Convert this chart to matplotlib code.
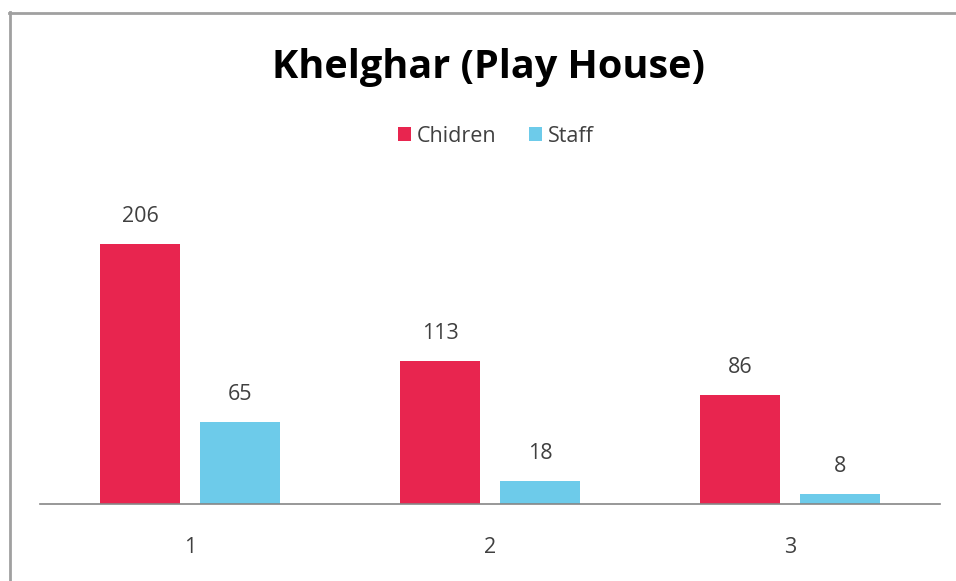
import numpy as np
import matplotlib
matplotlib.use("Agg")
from matplotlib import pyplot as plt
from matplotlib.lines import Line2D

categories = ["1", "2", "3"]
children = [206, 113, 86]
staff = [65, 18, 8]

red = "#E8254F"
blue = "#6DCBEA"
txt = "#404040"

plt.rcParams['font.family'] = ['Open Sans', 'DejaVu Sans']

W, H = 956, 581
fig = plt.figure(figsize=(W / 100, H / 100), dpi=100)
ax = fig.add_axes([40 / W, (H - 504) / H, 900 / W, 304 / H])

x = np.arange(len(categories))
w = 0.2667
b1 = ax.bar(x - 1 / 6, children, w, color=red, label="Chidren")
b2 = ax.bar(x + 1 / 6, staff, w, color=blue, label="Staff")

for bars, vals in ((b1, children), (b2, staff)):
    for r, v in zip(bars, vals):
        ax.annotate(str(v), (r.get_x() + r.get_width() / 2, v),
                    xytext=(0, 16), textcoords="offset points",
                    ha="center", va="baseline", fontsize=15.5, color=txt)

ax.set_xlim(-0.5, 2.5)
ax.set_ylim(0, 304 / 1.262)
ax.set_xticks(x)
ax.set_xticklabels(categories, fontsize=15.5, color=txt)
ax.tick_params(axis="x", length=0, pad=24)
ax.set_yticks([])
for s in ("top", "right", "left"):
    ax.spines[s].set_visible(False)
ax.spines["bottom"].set_color("#868686")
ax.spines["bottom"].set_linewidth(1.2)

fig.text(488 / W, 1 - 78 / H, "Khelghar (Play House)", ha="center",
         va="baseline", fontsize=28.5, fontweight="bold", color="black")

fig.legend(handles=[b1, b2], loc="center", bbox_to_anchor=(496 / W, 1 - 136 / H),
           ncol=2, frameon=False, fontsize=15.5, handlelength=0.6, handleheight=0.6,
           handletextpad=0.3, columnspacing=1.5, labelcolor=txt)

# grey frame on top and left edge
fig.add_artist(Line2D([9.5 / W, 9.5 / W], [0, 1 - 12 / H], transform=fig.transFigure,
                      color="#A0A0A0", lw=2))
fig.add_artist(Line2D([9 / W, 1], [1 - 12.5 / H, 1 - 12.5 / H], transform=fig.transFigure,
                      color="#A0A0A0", lw=2))

fig.savefig("out.png", dpi=100)
